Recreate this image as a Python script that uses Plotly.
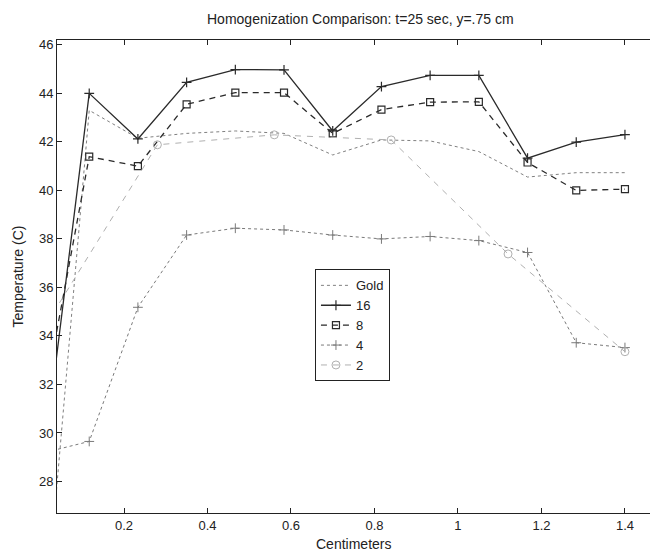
import plotly.graph_objects as go

# x positions (cm)
x_fine = [0.0, 0.1167, 0.2333, 0.35, 0.4667, 0.5833, 0.7, 0.8167, 0.9333, 1.05, 1.1667, 1.2833, 1.4]
x_coarse = [0.0, 0.28, 0.56, 0.84, 1.12, 1.4]

gold = [20.0, 43.3, 42.15, 42.35, 42.45, 42.35, 41.46, 42.08, 42.04, 41.6, 40.55, 40.73, 40.73]
s16 = [27.8, 44.0, 42.12, 44.45, 44.98, 44.97, 42.45, 44.28, 44.74, 44.74, 41.33, 41.99, 42.3]
s8 = [30.6, 41.39, 41.0, 43.55, 44.03, 44.03, 42.35, 43.33, 43.64, 43.65, 41.15, 40.0, 40.05]
s4 = [29.15, 29.65, 35.18, 38.16, 38.44, 38.37, 38.16, 38.0, 38.1, 37.93, 37.44, 33.72, 33.52]
s2 = [34.1, 41.88, 42.29, 42.08, 37.38, 33.35]

names = ["Gold", "16", "8", "4", "2"]
x_ticks = [0.2, 0.4, 0.6, 0.8, 1.0, 1.2, 1.4]
x_tick_text = ["0.2", "0.4", "0.6", "0.8", "1", "1.2", "1.4"]
y_ticks = [28, 30, 32, 34, 36, 38, 40, 42, 44, 46]

FONT = "Liberation Sans, Arial, sans-serif"

fig = go.Figure()
fig.add_trace(go.Scatter(x=x_fine, y=gold, name=names[0], mode="lines",
                         line=dict(color="#808080", width=1, dash="dot")))
fig.add_trace(go.Scatter(x=x_fine, y=s16, name=names[1], mode="lines+markers",
                         line=dict(color="#2a2a2a", width=1.3),
                         marker=dict(symbol="cross-thin-open", size=7,
                                     line=dict(color="#2a2a2a", width=1.2))))
fig.add_trace(go.Scatter(x=x_fine, y=s8, name=names[2], mode="lines+markers",
                         line=dict(color="#2a2a2a", width=1.3, dash="6px,5px"),
                         marker=dict(symbol="square-open", size=7, color="#2a2a2a",
                                     line=dict(color="#2a2a2a", width=1.2))))
fig.add_trace(go.Scatter(x=x_fine, y=s4, name=names[3], mode="lines+markers",
                         line=dict(color="#7a7a7a", width=1, dash="dot"),
                         marker=dict(symbol="cross-thin-open", size=7,
                                     line=dict(color="#7a7a7a", width=1))))
fig.add_trace(go.Scatter(x=x_coarse, y=s2, name=names[4], mode="lines+markers",
                         line=dict(color="#b0b0b0", width=1, dash="6px,6px"),
                         marker=dict(symbol="circle-open", size=8, color="#b0b0b0",
                                     line=dict(color="#b0b0b0", width=1))))

fig.update_layout(
    width=650, height=553,
    margin=dict(l=57, r=0, t=40, b=40),
    paper_bgcolor="white", plot_bgcolor="white",
    font=dict(family=FONT, size=13, color="#222"),
    showlegend=True,
    legend=dict(x=0.435, y=0.515, xanchor="left", yanchor="top",
                bgcolor="white", bordercolor="#222", borderwidth=1,
                font=dict(size=13), tracegroupgap=0, itemwidth=30),
)
fig.add_annotation(text="Homogenization Comparison: t=25 sec, y=.75 cm", x=0.511, y=1.0,
                   xref="paper", yref="paper", yanchor="bottom", yshift=11,
                   showarrow=False, font=dict(size=14))
fig.add_annotation(text="Centimeters", x=0.5, y=0, xref="paper", yref="paper",
                   yanchor="top", yshift=-21, showarrow=False, font=dict(size=14))
fig.add_annotation(text="Temperature (C)", x=0, y=0.5, xref="paper", yref="paper",
                   xanchor="right", xshift=-30, textangle=-90, showarrow=False,
                   font=dict(size=14))

fig.update_xaxes(range=[0.0395, 1.46], tickvals=x_ticks, ticktext=x_tick_text,
                 ticks="inside", ticklen=5, tickcolor="#222", showgrid=False,
                 zeroline=False, showline=True, linecolor="#222", linewidth=1,
                 mirror="ticks", tickfont=dict(size=13))
fig.update_yaxes(range=[26.7, 46.2], tickvals=y_ticks,
                 ticks="inside", ticklen=5, tickcolor="#222", showgrid=False,
                 zeroline=False, showline=True, linecolor="#222", linewidth=1,
                 mirror=False, tickfont=dict(size=13))

fig.write_html("out.html")
